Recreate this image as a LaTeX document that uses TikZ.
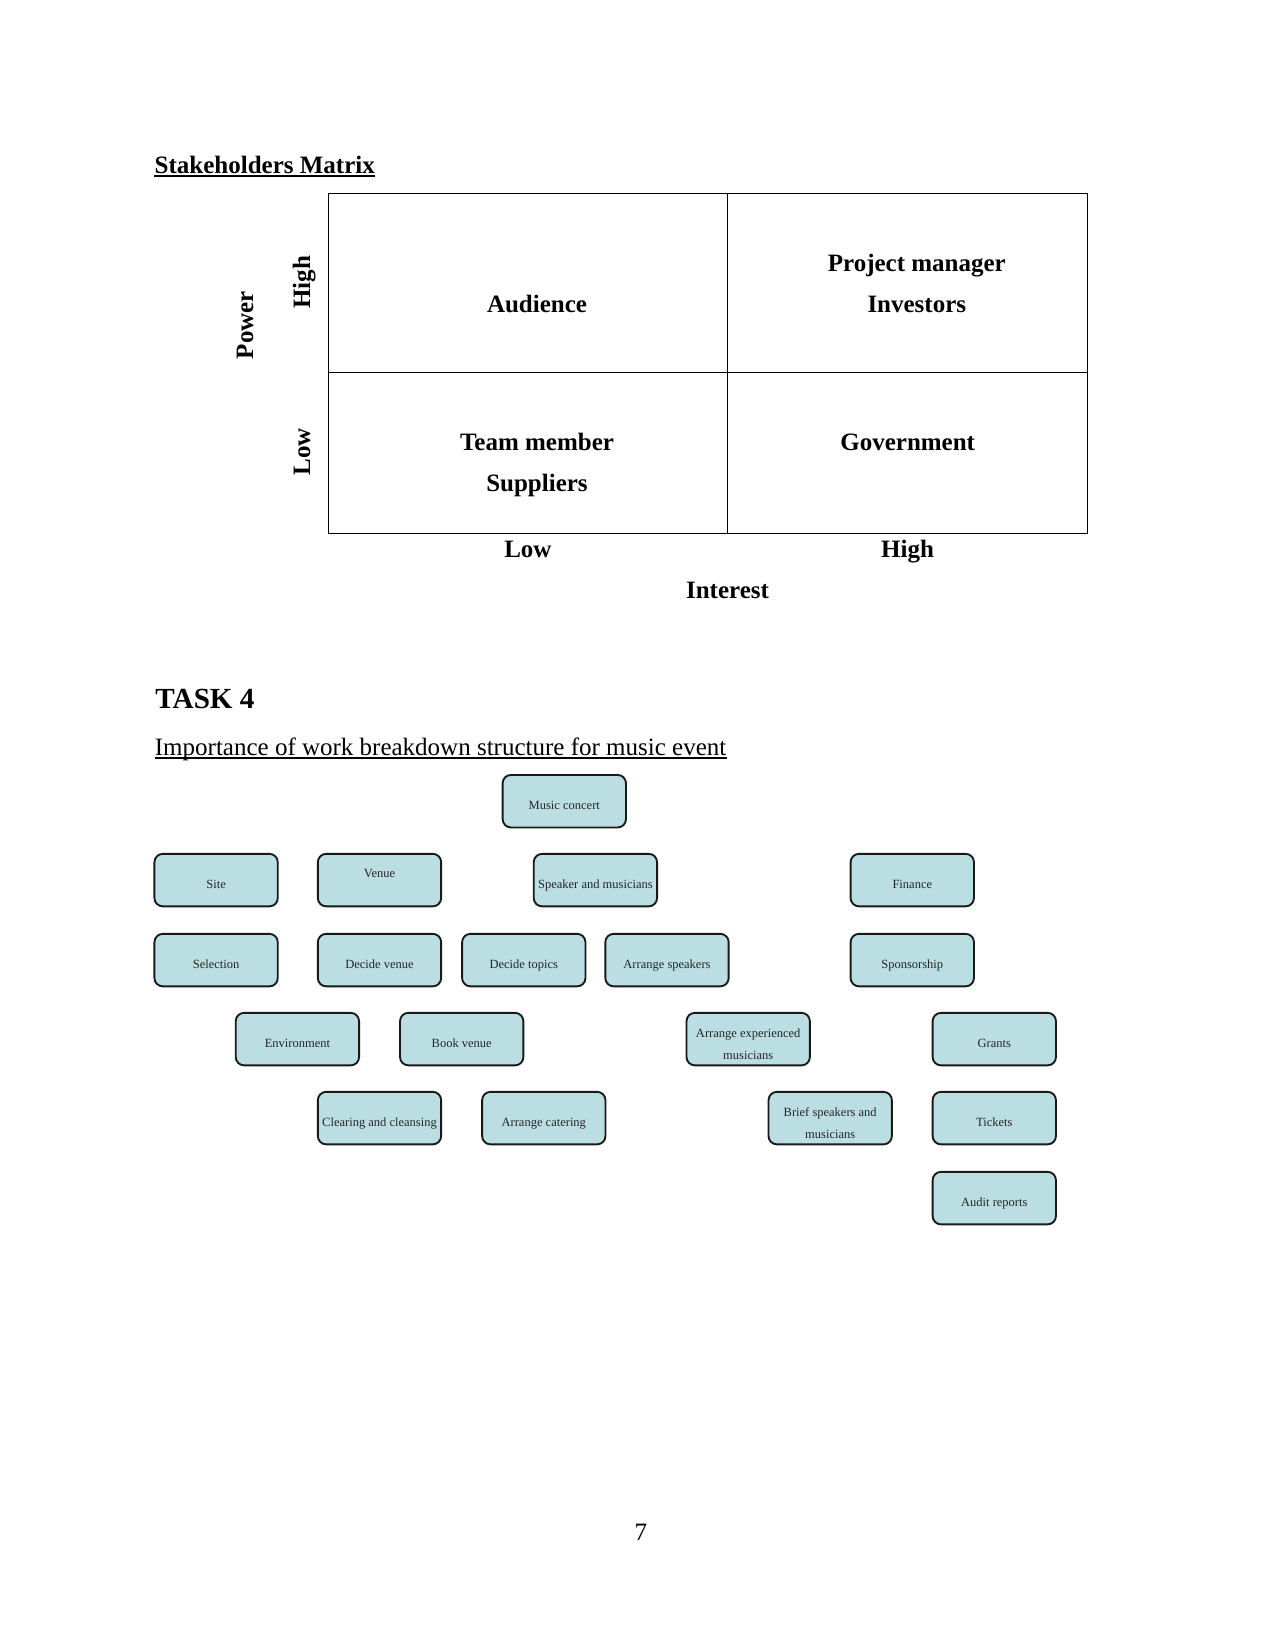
\documentclass[tikz,border=0pt]{standalone}
\usepackage{fontspec}
\setmainfont{Liberation Serif}
\definecolor{wbsfill}{RGB}{186,222,225}
\definecolor{wbsline}{RGB}{25,25,25}
\begin{document}
\begin{tikzpicture}[x=0.48pt,y=-0.48pt,
  celltxt/.style={inner sep=0pt, anchor=base, font=\fontsize{12}{14}\selectfont\bfseries},
  rottxt/.style={celltxt, rotate=90},
  headtxt/.style={inner sep=0pt, anchor=base west},
  wbs/.style={draw=wbsline, line width=0.9pt, fill=wbsfill, rounded corners=4pt,
    minimum width=59.2pt, minimum height=25.2pt, inner sep=0pt},
  wtxt/.style={inner sep=0pt, anchor=base, font=\fontsize{6}{7}\selectfont, text=black!85},
  uline/.style={line width=0.6pt},
  grid/.style={line width=0.6pt}]
\useasboundingbox (0,0) rectangle (1275,1651);

% ---------- Stakeholders matrix ----------
\node[headtxt, font=\fontsize{12}{14}\selectfont\bfseries] (title) at (154.3,173.3) {Stakeholders Matrix};
\draw[uline] ([yshift=-1.3pt]title.base west) -- ([yshift=-1.3pt]title.base east);

\draw[grid] (328.3,193.3) rectangle (1087.7,533.3);
\draw[grid] (328.3,372.3) -- (1087.7,372.3);
\draw[grid] (727.3,193.3) -- (727.3,533.3);

\node[celltxt] (aud) at (537,312.5) {Audience};
\node[celltxt] (pm) at (916.8,271.7) {Project manager};
\node[celltxt] (inv) at (916.8,312.5) {Investors};
\node[celltxt] (team) at (537,450) {Team member};
\node[celltxt] (sup) at (537,491.7) {Suppliers};
\node[celltxt] (gov) at (907.7,450) {Government};

\node[rottxt] (phigh) at (310,282.5) {High};
\node[rottxt] (plow) at (310,451.7) {Low};
\node[rottxt] (power) at (253,325) {Power};

\node[celltxt] (ilow) at (527.9,557.3) {Low};
\node[celltxt] (ihigh) at (907.5,557.5) {High};
\node[celltxt] (interest) at (727.5,598.3) {Interest};

% ---------- Task 4 ----------
\node[headtxt, font=\fontsize{14}{16}\selectfont\bfseries] (task) at (155,708.3) {TASK 4};
\node[headtxt, font=\fontsize{12}{14}\selectfont] (sub) at (154.5,755) {Importance of work breakdown structure for music event};
\draw[uline] ([yshift=-1.4pt]sub.base west) -- ([yshift=-1.4pt]sub.base east);

% ---------- WBS boxes ----------
\node[wbs] (mc) at (564.3,801.2) {};
\node[wtxt] (mct) at (564.3,809) {Music concert};

\node[wbs] (site) at (216.1,880.1) {};
\node[wtxt] (sitet) at (216.1,888) {Site};
\node[wbs] (venue) at (379.5,880.1) {};
\node[wtxt] (venuet) at (379.5,877) {Venue};
\node[wbs] (speak) at (595.4,880.1) {};
\node[wtxt] (speakt) at (595.4,888) {Speaker and musicians};
\node[wbs] (fin) at (912.3,880.1) {};
\node[wtxt] (fint) at (912.3,888) {Finance};

\node[wbs] (sel) at (216.1,960.1) {};
\node[wtxt] (selt) at (216.1,968) {Selection};
\node[wbs] (dven) at (379.5,960.1) {};
\node[wtxt] (dvent) at (379.5,968) {Decide venue};
\node[wbs] (dtop) at (523.8,960.1) {};
\node[wtxt] (dtopt) at (523.8,968) {Decide topics};
\node[wbs] (aspk) at (667,960.1) {};
\node[wtxt] (aspkt) at (667,968) {Arrange speakers};
\node[wbs] (spon) at (912.3,960.1) {};
\node[wtxt] (spont) at (912.3,968) {Sponsorship};

\node[wbs] (env) at (297.4,1039.1) {};
\node[wtxt] (envt) at (297.4,1047) {Environment};
\node[wbs] (book) at (461.7,1039.1) {};
\node[wtxt] (bookt) at (461.7,1047) {Book venue};
\node[wbs] (aexp) at (748.2,1039.1) {};
\node[wtxt] (aexpa) at (748.2,1037.2) {Arrange experienced};
\node[wtxt] (aexpb) at (748.2,1059) {musicians};
\node[wbs] (grants) at (994.3,1039.1) {};
\node[wtxt] (grantst) at (994.3,1047) {Grants};

\node[wbs] (clear) at (379.5,1118.1) {};
\node[wtxt] (cleart) at (379.5,1126) {Clearing and cleansing};
\node[wbs] (cater) at (543.8,1118.1) {};
\node[wtxt] (catert) at (543.8,1126) {Arrange catering};
\node[wbs] (brief) at (830.2,1118.1) {};
\node[wtxt] (briefa) at (830.2,1116.5) {Brief speakers and};
\node[wtxt] (briefb) at (830.2,1138) {musicians};
\node[wbs] (tick) at (994.3,1118.1) {};
\node[wtxt] (tickt) at (994.3,1126) {Tickets};

\node[wbs] (audit) at (994.3,1198.1) {};
\node[wtxt] (auditt) at (994.3,1206) {Audit reports};

% ---------- page number ----------
\node[inner sep=0pt, anchor=base, font=\fontsize{12}{14}\selectfont] (pg) at (640.8,1540) {7};
\end{tikzpicture}
\end{document}
